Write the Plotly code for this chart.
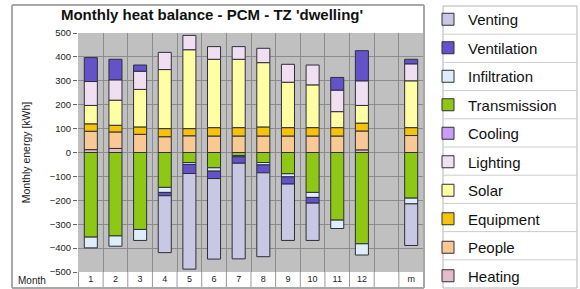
import plotly.graph_objects as go

months = ["1", "2", "3", "4", "5", "6", "7", "8", "9", "10", "11", "12", " ", "m"]

heating      = [12, 17, None, None, None, None, None, None, None, None, None, 11, None, None]
people       = [77, 69, 76, 66, 70, 69, 69, 69, 69, 69, 69, 79, None, 71]
equipment    = [31, 28, 31, 34, 30, 35, 35, 38, 35, 35, 35, 33, None, 33]
solar        = [77, 105, 157, 247, 330, 286, 286, 269, 190, 179, 67, 74, None, 196]
lighting     = [100, 85, 76, 72, 60, 53, 53, 60, 75, 83, 90, 103, None, 71]
cooling      = [None] * 14
transmission = [-354, -349, -322, -146, -42, -64, -13, -42, -89, -167, -283, -382, None, -191]
infiltration = [-45, -43, -46, -21, -8, -14, -5, -10, -13, -21, -35, -47, None, -24]
ventilation  = [100, 86, 26, -14, -38, -31, -27, -33, -30, -24, 53, 126, None, 19]
venting      = [None, None, None, -238, -400, -337, -400, -351, -236, -156, None, None, None, -174]

series = [
    ("Heating", heating, "#e2bccb"),
    ("People", people, "#f9c993"),
    ("Equipment", equipment, "#f7c20a"),
    ("Solar", solar, "#ffff9c"),
    ("Lighting", lighting, "#f0dff0"),
    ("Cooling", cooling, "#c79cf5"),
    ("Transmission", transmission, "#8fc814"),
    ("Infiltration", infiltration, "#ddeefa"),
    ("Ventilation", ventilation, "#6453c8"),
    ("Venting", venting, "#c8c8e4"),
]

W, H = 580, 289
L, R, T, B = 78, 156, 33, 17
pw, ph = W - L - R, H - T - B


def px_x(px):
    return (px - L) / pw


def px_y(py):
    return (H - B - py) / ph


fig = go.Figure()
n = len(series)
for idx, (name, vals, col) in enumerate(series):
    marker = dict(color=col, line=dict(color="#2e2e3a", width=1))
    if name == "Solar":
        marker["pattern"] = dict(shape="+", fgcolor="#f4f4d8", size=3, solidity=0.25, fillmode="overlay")
    fig.add_trace(go.Bar(x=months, y=vals, name=name, marker=marker, legendgroup=name,
                         legendrank=n - idx))


def seg(x0, y0, x1, y1, color, width=1):
    return dict(type="line", xref="x domain", yref="y domain", layer="above",
                x0=px_x(x0), y0=px_y(y0), x1=px_x(x1), y1=px_y(y1),
                line=dict(color=color, width=width))


shapes = []
# month row separators
for i in range(len(months) + 1):
    shapes.append(dict(type="line", xref="x", yref="y domain", x0=i - 0.5, x1=i - 0.5,
                       y0=px_y(288), y1=0, line=dict(color="#9a9a9a", width=1)))
# chart frame
FC = "#a8a8a8"
shapes += [seg(12, 5, 424, 5, FC, 2), seg(12, 288, 424, 288, FC, 2),
           seg(12, 5, 12, 288, FC, 2), seg(424, 5, 424, 288, FC, 2)]
# legend box
LB_TOP, ROW = 6, 28.2
LC = "#b4b4b4"
shapes += [seg(443, LB_TOP, 577, LB_TOP, LC), seg(443, 288, 577, 288, LC),
           seg(443, LB_TOP, 443, 288, LC), seg(577, LB_TOP, 577, 288, LC)]
for k in range(1, 10):
    yy = LB_TOP + k * ROW
    shapes.append(seg(443, yy, 577, yy, "#cccccc"))

fig.update_layout(
    width=W, height=H,
    margin=dict(l=L, r=R, t=T, b=B, autoexpand=False),
    barmode="relative",
    bargap=0.47,
    paper_bgcolor="white",
    plot_bgcolor="#c0c0c0",
    font=dict(family="Liberation Sans, Arial, sans-serif", color="#222222"),
    title=dict(text="<b>Monthly heat balance - PCM - TZ 'dwelling'</b>", x=212 / W,
               xanchor="center", y=1 - 15 / H, yanchor="middle", font=dict(size=15, color="#111111")),
    xaxis=dict(type="category", tickson="boundaries", showgrid=True, gridcolor="#8c8c8c", gridwidth=1,
               ticks="", tickfont=dict(size=9), showline=False, fixedrange=True),
    yaxis=dict(range=[-500, 500], dtick=100, showgrid=True, gridcolor="#8c8c8c", gridwidth=1,
               zeroline=True, zerolinecolor="#8c8c8c", zerolinewidth=1,
               ticks="outside", ticklen=4, tickcolor="#666666", tickfont=dict(size=9.5),
               title=dict(text="Monthly energy [kWh]", font=dict(size=10.5), standoff=17),
               showline=False, fixedrange=True),
    legend=dict(x=px_x(428), xanchor="left", y=px_y(3), yanchor="top",
                traceorder="grouped", tracegroupgap=6, maxheight=289,
                font=dict(size=15, color="#111111"), bgcolor="rgba(255,255,255,0)"),
    shapes=shapes,
    annotations=[dict(text="Month", xref="paper", yref="paper", x=px_x(16), y=px_y(280),
                      xanchor="left", yanchor="middle", showarrow=False, font=dict(size=10))],
)

fig.write_html("out.html", config={"displayModeBar": False},
               post_script="document.body.style.margin='0';")
